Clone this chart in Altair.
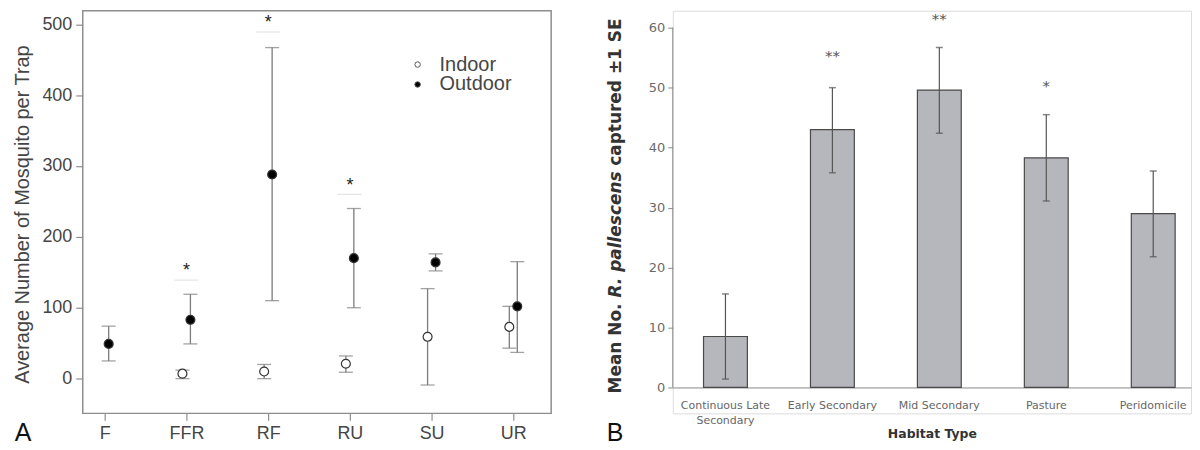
import altair as alt
import pandas as pd

# ---------------- Panel A data ----------------
cats_A = ["F", "FFR", "RF", "RU", "SU", "UR"]
indoor_mean = [None, 7, 10, 21, 59, 73]
indoor_lo = [None, 0, 0, 9, -9, 43]
indoor_hi = [None, 12, 20, 32, 127, 102]
outdoor_mean = [49, 83, 288, 170, 164, 102]
outdoor_lo = [25, 49, 110, 100, 152, 37]
outdoor_hi = [74, 119, 467, 240, 176, 165]
star_cats_A = ["FFR", "RF", "RU"]
star_y_A = [157, 507, 277]
star_line_A = [139, 489, 260]
groups = ["Indoor", "Outdoor"]

# ---------------- Panel B data ----------------
habitats = ["Continuous Late Secondary", "Early Secondary", "Mid Secondary", "Pasture", "Peridomicile"]
hab_mean = [8.5, 43.0, 49.6, 38.3, 29.0]
hab_lo = [1.4, 35.8, 42.4, 31.1, 21.8]
hab_hi = [15.6, 50.0, 56.7, 45.5, 36.1]
hab_sig = ["", "**", "**", "*", ""]
hab_sig_y = [None, 55.2, 61.5, 50.2, None]
title_B_parts = ["Mean No.", "R. pallescens", "captured ±1 SE"]
title_B_styles = ["normal", "italic", "normal"]

rows = []
for i, c in enumerate(cats_A):
    if indoor_mean[i] is not None:
        rows.append({"cat": c, "group": "Indoor", "mean": indoor_mean[i], "lo": indoor_lo[i], "hi": indoor_hi[i]})
    rows.append({"cat": c, "group": "Outdoor", "mean": outdoor_mean[i], "lo": outdoor_lo[i], "hi": outdoor_hi[i]})
dfA = pd.DataFrame(rows)
dfStar = pd.DataFrame({"cat": star_cats_A, "y": star_y_A, "line": star_line_A})

dfB = pd.DataFrame({"habitat": habitats, "mean": hab_mean, "lo": hab_lo, "hi": hab_hi})
dfSig = pd.DataFrame({"habitat": habitats, "sig": hab_sig, "y": hab_sig_y}).dropna()

frame = "#8e8e8e"
txtA = "#454545"
fA = "Liberation Sans"
fB = "DejaVu Sans"

xA = alt.X("cat:N", sort=cats_A,
           scale=alt.Scale(type="point", domain=cats_A, padding=0.366, align=0.367),
           axis=alt.Axis(title=None, labelAngle=0, labelFont=fA, labelFontSize=18, labelColor=txtA,
                         tickColor=frame, tickSize=7, tickWidth=1.2, domain=False, grid=False, labelPadding=4))
xoff = alt.XOffset("group:N", scale=alt.Scale(domain=groups, range=[-8, 8]))


def yA(field):
    return alt.Y(field, type="quantitative",
                 scale=alt.Scale(domain=[-49, 519], nice=False, zero=False),
                 axis=alt.Axis(title="Average Number of Mosquito per Trap", values=[0, 100, 200, 300, 400, 500],
                               labelFont=fA, labelFontSize=18, labelColor=txtA, tickColor=frame, tickSize=7,
                               tickWidth=1.2, domain=False, grid=False, labelPadding=4,
                               titleFont=fA, titleFontSize=20, titleFontWeight="normal", titleColor=txtA,
                               titleAngle=270, titleX=-60, titleY=204, titleBaseline="middle", titleAlign="center"))


baseA = alt.Chart(dfA)
ruleA = baseA.mark_rule(color="#7c7c7c", strokeWidth=1.3).encode(x=xA, xOffset=xoff, y=yA("lo"), y2="hi")
capHi = baseA.mark_tick(orient="horizontal", size=14, thickness=1.3, color="#7c7c7c").encode(
    x=xA, xOffset=xoff, y=yA("hi"))
capLo = baseA.mark_tick(orient="horizontal", size=14, thickness=1.3, color="#7c7c7c").encode(
    x=xA, xOffset=xoff, y=yA("lo"))
ptsA = baseA.mark_circle(size=80, stroke="#333333", strokeWidth=1.2, opacity=1).encode(
    x=xA, xOffset=xoff, y=yA("mean"),
    fill=alt.Fill("group:N", scale=alt.Scale(domain=groups, range=["white", "black"]),
                  legend=alt.Legend(title=None, orient="none", legendX=326, legendY=44, labelFont=fA,
                                    labelFontSize=20, labelColor=txtA, symbolSize=30, symbolType="circle",
                                    symbolStrokeColor="#555555", symbolStrokeWidth=1, rowPadding=0,
                                    labelOffset=12)))
sigLine = alt.Chart(dfStar).mark_tick(orient="horizontal", size=24, thickness=1, color="#d2d2d2").encode(
    x=xA, y=yA("line"))
stars = alt.Chart(dfStar).mark_text(text="*", fontSize=18, font=fA, color="#222222", baseline="middle", dy=4).encode(
    x=xA, y=yA("y"))
labA = alt.Chart(pd.DataFrame({"t": ["A"]})).mark_text(font=fA, fontSize=25, color="#111111",
                                                      baseline="middle", align="center").encode(
    text="t:N", x=alt.value(-60), y=alt.value(424))

left = alt.layer(ruleA, capHi, capLo, sigLine, stars, ptsA, labA).properties(
    width=470, height=404, view=alt.ViewBackground(stroke=frame, strokeWidth=1.5))

# ---------------- Panel B ----------------
xB = alt.X("habitat:N", sort=habitats,
           scale=alt.Scale(domain=habitats, paddingInner=0.59, paddingOuter=0.218, align=0.66),
           axis=alt.Axis(title="Habitat Type", labelAngle=0, ticks=False, offset=-26, domainColor="#8a8a8a",
                         labelFont=fB, labelFontSize=11, labelColor="#666666", labelPadding=12,
                         labelLineHeight=15,
                         labelExpr="datum.label == 'Continuous Late Secondary' ? ['Continuous  Late', 'Secondary'] : datum.label",
                         titleFont=fB, titleFontSize=12.5, titleFontWeight="bold", titleColor="#333333",
                         titleY=46, titleBaseline="middle"))


def yB(field):
    return alt.Y(field, type="quantitative",
                 scale=alt.Scale(domain=[-4.32, 62.83], nice=False, zero=False),
                 axis=alt.Axis(title=None, values=[0, 10, 20, 30, 40, 50, 60],
                               domain=False, grid=False, tickColor="#8a8a8a", tickSize=5, labelFont=fB,
                               labelFontSize=13, labelColor="#6a6a6a", labelPadding=3))


baseB = alt.Chart(dfB)
bars = baseB.mark_bar(color="#b6b6bd", stroke="#4a4a4a", strokeWidth=1.2).encode(
    x=xB, y=yB("mean"), y2=alt.datum(0))
errB = baseB.mark_rule(color="#555555", strokeWidth=1.2).encode(x=xB, y=yB("lo"), y2="hi")
capBh = baseB.mark_tick(orient="horizontal", size=7, thickness=1.5, color="#555555").encode(x=xB, y=yB("hi"))
capBl = baseB.mark_tick(orient="horizontal", size=7, thickness=1.5, color="#555555").encode(x=xB, y=yB("lo"))
sigB = alt.Chart(dfSig).mark_text(font=fB, fontSize=15, color="#555555", baseline="middle").encode(
    x=xB, y=yB("y"), text="sig:N")
yline = alt.Chart(pd.DataFrame({"a": [0]})).mark_rule(color="#8a8a8a").encode(
    x=alt.value(0), y=alt.datum(0), y2=alt.datum(60))
labB = alt.Chart(pd.DataFrame({"t": ["B"]})).mark_text(font=fA, fontSize=25, color="#111111",
                                                      baseline="middle", align="center").encode(
    text="t:N", x=alt.value(-58), y=alt.value(424))

# y-axis title with an italic species name, set piece by piece (bottom to top);
# advances are approx. DejaVu Sans Bold widths (in em) of each part plus the following space
title_fs = 17
title_bottom = 384
part_adv = [5.66, 7.78, 8.70]
title_layers = []
acc = 0.0
for txt, sty, em in zip(title_B_parts, title_B_styles, part_adv):
    title_layers.append(
        alt.Chart(pd.DataFrame({"t": [txt]})).mark_text(
            font=fB, fontSize=title_fs, fontWeight="bold", fontStyle=sty, color="#333333",
            angle=270, align="left", baseline="middle").encode(
            text="t:N", x=alt.value(-57), y=alt.value(title_bottom - acc * title_fs)))
    acc += em

right = alt.layer(bars, errB, capBh, capBl, sigB, yline, labB, *title_layers).properties(width=520, height=404)

chart = alt.hconcat(left, right, spacing=54).properties(
    padding={"left": 4, "top": 1, "right": 0, "bottom": 0}
).configure_view(stroke="transparent").configure(background="white")

chart.save("out.html", embed_options={"renderer": "svg", "actions": False})
